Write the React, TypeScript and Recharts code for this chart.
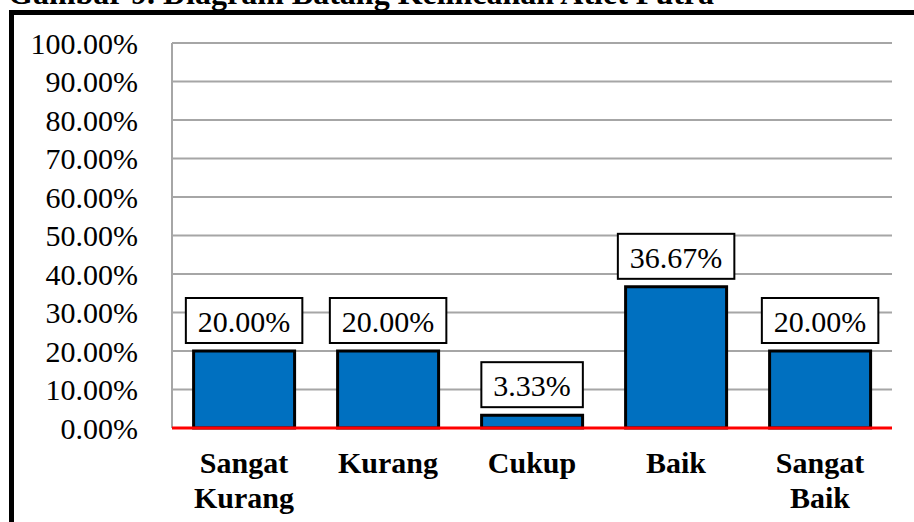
import { Bar, BarChart, CartesianGrid, LabelList, XAxis, YAxis } from 'recharts'

const categories = ['Sangat Kurang', 'Kurang', 'Cukup', 'Baik', 'Sangat Baik']
const values = [20.0, 20.0, 3.33, 36.67, 20.0]
const yTicks = [0, 10, 20, 30, 40, 50, 60, 70, 80, 90, 100]

const data = categories.map((name, i) => ({ name, value: values[i] }))

const serif = '"Liberation Serif", "Times New Roman", serif'
const fmt = (v: number) => v.toFixed(2) + '%'

// rough Times-like glyph widths (em) to size the label boxes
const charW = (c: string) => (c === '.' ? 0.25 : c === '%' ? 0.833 : 0.5)

function ValueLabel(props: any) {
  const { x, y, width, value } = props
  const text = fmt(Number(value))
  const fs = 30
  const w = text.split('').reduce((s, c) => s + charW(c), 0) * fs + 24
  const h = 45
  const cx = Number(x) + Number(width) / 2
  const bottom = Number(y) - 8
  return (
    <g>
      <rect x={cx - w / 2} y={bottom - h} width={w} height={h} fill="#fff" stroke="#000" strokeWidth={2} />
      <text x={cx} y={bottom - 11} textAnchor="middle" fontFamily={serif} fontSize={fs} fill="#000">
        {text}
      </text>
    </g>
  )
}

function CategoryTick(props: any) {
  const { x, y, payload } = props
  const words = String(payload.value).split(' ')
  return (
    <text x={x} y={y + 45} textAnchor="middle" fontFamily={serif} fontSize={30} fontWeight="bold" fill="#000">
      {words.map((wd, i) => (
        <tspan key={i} x={x} dy={i === 0 ? 0 : 35}>
          {wd}
        </tspan>
      ))}
    </text>
  )
}

export default function App() {
  return (
    <div style={{ position: 'relative', width: 914, height: 522, overflow: 'hidden', background: '#fff' }}>
      <style>{'body{margin:0}'}</style>
      <div
        style={{
          position: 'absolute',
          left: 8,
          top: -23,
          fontFamily: serif,
          fontWeight: 'bold',
          fontSize: 32,
          lineHeight: '32px',
          whiteSpace: 'nowrap',
          color: '#000',
        }}
      >
        Gambar 9. Diagram Batang Kelincahan Atlet Putra
      </div>
      <div
        style={{
          position: 'absolute',
          left: 9,
          top: 10,
          width: 1000,
          height: 1000,
          border: '5px solid #000',
          boxSizing: 'border-box',
        }}
      />
      <div style={{ position: 'absolute', left: 0, top: 0 }}>
        <BarChart
          width={914}
          height={522}
          data={data}
          margin={{ top: 43, right: 22, bottom: 64, left: 0 }}
          barCategoryGap="15%"
        >
          <CartesianGrid vertical={false} stroke="#a6a6a6" strokeWidth={2} />
          <YAxis
            width={172}
            domain={[0, 100]}
            ticks={yTicks}
            interval={0}
            tickFormatter={fmt}
            tickLine={false}
            tickSize={0}
            tickMargin={34}
            axisLine={{ stroke: '#a6a6a6', strokeWidth: 2 }}
            tick={{ fontFamily: serif, fontSize: 30, fill: '#000' }}
          />
          <XAxis
            dataKey="name"
            height={30}
            interval={0}
            tickLine={false}
            tickSize={0}
            tickMargin={0}
            axisLine={{ stroke: '#ff0000', strokeWidth: 3 }}
            tick={<CategoryTick />}
          />
          <Bar dataKey="value" fill="#0070C0" stroke="#000" strokeWidth={3} isAnimationActive={false}>
            <LabelList dataKey="value" content={<ValueLabel />} />
          </Bar>
        </BarChart>
      </div>
    </div>
  )
}
